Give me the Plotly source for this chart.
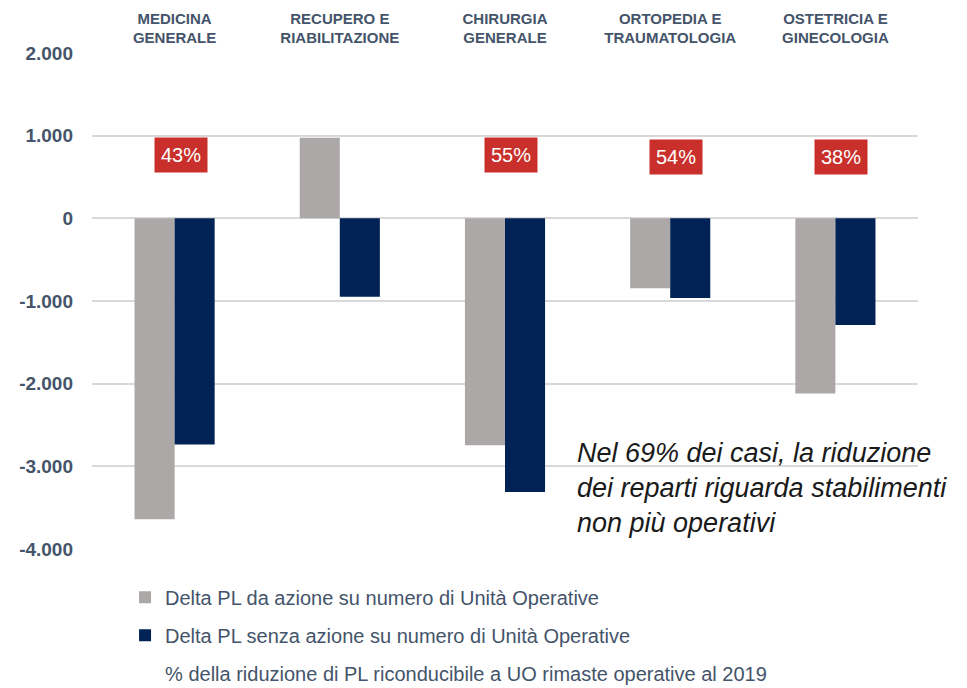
import plotly.graph_objects as go

categories = ['MEDICINA<br>GENERALE', 'RECUPERO E<br>RIABILITAZIONE', 'CHIRURGIA<br>GENERALE',
              'ORTOPEDIA E<br>TRAUMATOLOGIA', 'OSTETRICIA E<br>GINECOLOGIA']
delta_con_azione = [-3640, 975, -2745, -845, -2120]
delta_senza_azione = [-2735, -950, -3310, -965, -1290]
perc_labels = ['43%', None, '55%', '54%', '38%']
perc_y = [770, None, 770, 740, 740]

tick_vals = [2000, 1000, 0, -1000, -2000, -3000, -4000]
tick_text = ['2.000', '1.000', '0', '-1.000', '-2.000', '-3.000', '-4.000']

name_gray = 'Delta PL da azione su numero di Unità Operative'
name_navy = 'Delta PL senza azione su numero di Unità Operative'
name_perc = '% della riduzione di PL riconducibile a UO rimaste operative al 2019'

GRAY = '#aca8a7'
NAVY = '#002255'
RED = '#c9302c'
TXT = '#44546a'
FONT = 'Liberation Sans, Arial, sans-serif'

fig = go.Figure()
fig.add_trace(go.Bar(x=categories, y=delta_con_azione, name=name_gray,
                     marker=dict(color=GRAY, line=dict(width=0)), legendgroup='a'))
fig.add_trace(go.Bar(x=categories, y=delta_senza_azione, name=name_navy,
                     marker=dict(color=NAVY, line=dict(width=0)), legendgroup='b'))
# legend-only entry for the percentage boxes
fig.add_trace(go.Scatter(x=[categories[0]], y=[None], mode='markers', name=name_perc,
                         marker=dict(color='rgba(0,0,0,0)', size=1), legendgroup='c'))

for cat, lab, yy in zip(categories, perc_labels, perc_y):
    if lab is None:
        continue
    fig.add_annotation(x=cat, y=yy, text=lab, showarrow=False, xshift=6,
                       bgcolor=RED, borderpad=6,
                       font=dict(family=FONT, size=20, color='white'))

fig.add_annotation(xref='paper', yref='paper', x=0.585, y=0.227, xanchor='left', yanchor='top',
                   align='left', showarrow=False,
                   text='<i>Nel 69% dei casi, la riduzione<br>dei reparti riguarda stabilimenti<br>non più operativi</i>',
                   font=dict(family=FONT, size=27, color='#1a1a1a'))

# page body has an 8px margin, so the figure is a bit smaller than the window
fig.update_layout(
    width=959, height=680,
    margin=dict(l=84, r=49, t=45, b=139, autoexpand=False),
    paper_bgcolor='white', plot_bgcolor='white',
    barmode='group', bargap=0.515, bargroupgap=0,
    font=dict(family=FONT, color=TXT),
    legend=dict(orientation='v', x=0.04, xanchor='left', y=-0.058, yanchor='top',
                font=dict(family=FONT, size=20, color=TXT), tracegroupgap=9,
                itemwidth=30, bgcolor='rgba(0,0,0,0)'),
    xaxis=dict(side='top', showgrid=False, showline=False, ticks='', automargin=False,
               ticklabelstandoff=6,
               tickfont=dict(family=FONT, size=15, color=TXT, weight='bold')),
    yaxis=dict(range=[-4000, 2000], tickvals=tick_vals, ticktext=tick_text, automargin=False,
               showgrid=True, gridcolor='#d9d9d9', gridwidth=2,
               zeroline=True, zerolinecolor='#d9d9d9', zerolinewidth=2,
               showline=False, ticks='', ticklabelstandoff=18,
               tickfont=dict(family=FONT, size=19, color=TXT, weight='bold')),
)

fig.write_html('out.html')
